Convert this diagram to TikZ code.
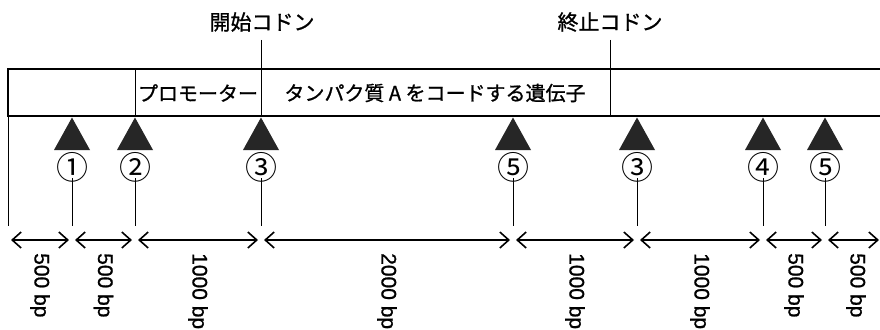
\documentclass[tikz,border=0pt]{standalone}
\usepackage{fontspec}
\setmainfont[FakeBold=1]{Liberation Sans}
\newfontfamily\jp[FakeBold=1]{Noto Sans CJK JP}
\newfontfamily\jpc{Noto Sans CJK JP}
\usetikzlibrary{arrows.meta}
\begin{document}
\begin{tikzpicture}[x=1pt,y=-1pt,
  boxline/.style={line width=1.4pt},
  thinline/.style={line width=1pt},
  jplabel/.style={font=\jp\fontsize{21}{24}\selectfont, inner sep=0pt},
  boxtext/.style={font=\jp\fontsize{20}{23}\selectfont, inner sep=0pt},
  circnum/.style={font=\jpc\fontsize{32}{36}\selectfont, inner sep=0pt},
  tri/.style={fill=black!85},
  dimarrow/.style={{Straight Barb[length=9pt,width=16pt]}-{Straight Barb[length=9pt,width=16pt]}, line width=1.6pt},
  bplabel/.style={font=\fontsize{21}{24}\selectfont, rotate=-90, anchor=west, inner sep=0pt}]
\useasboundingbox (0,0) rectangle (880,329);
\fill[white] (0,0) rectangle (880,329);
% box
\draw[boxline] (880,69) -- (8,69) -- (8,116) -- (880,116);
\draw[thinline] (8,116) -- (8,226);
\draw[thinline] (135,69) -- (135,116);
% codon labels
\node[jplabel] (start) at (262,22) {開始コドン};
\node[jplabel] (stop) at (610,22) {終止コドン};
\draw[thinline] (261,40) -- (261,116);
\draw[thinline] (610,40) -- (610,116);
% box texts
\node[boxtext] (prom) at (198,93) {プロモーター};
\node[boxtext] (gene) at (435,93) {タンパク質 A をコードする遺伝子};
% markers
\foreach \x/\n/\lab in {72/a/①,135/b/②,261/c/③,513/d/⑤,637/e/③,763/f/④,825/g/⑤}{
  \fill[tri] (\x,117.5) -- (\x-18,150) -- (\x+18,150) -- cycle;
  \node[circnum] (c\n) at (\x,167) {\lab};
  \draw[thinline] (\x,178) -- (\x,226);
}
% dimension arrows
\foreach \a/\b/\t in {8/72/500 bp,72/135/500 bp,135/261/1000 bp,261/513/2000 bp,513/637/1000 bp,637/763/1000 bp,763/825/500 bp}{
  \draw[dimarrow] (\a+3,240) -- (\b-3,240);
  \node[bplabel] at ({(\a+\b)/2},253) {\t};
}
\draw[dimarrow] (828,240) -- (879,240);
\node[bplabel] at (856,253) {500 bp};
\end{tikzpicture}
\end{document}
